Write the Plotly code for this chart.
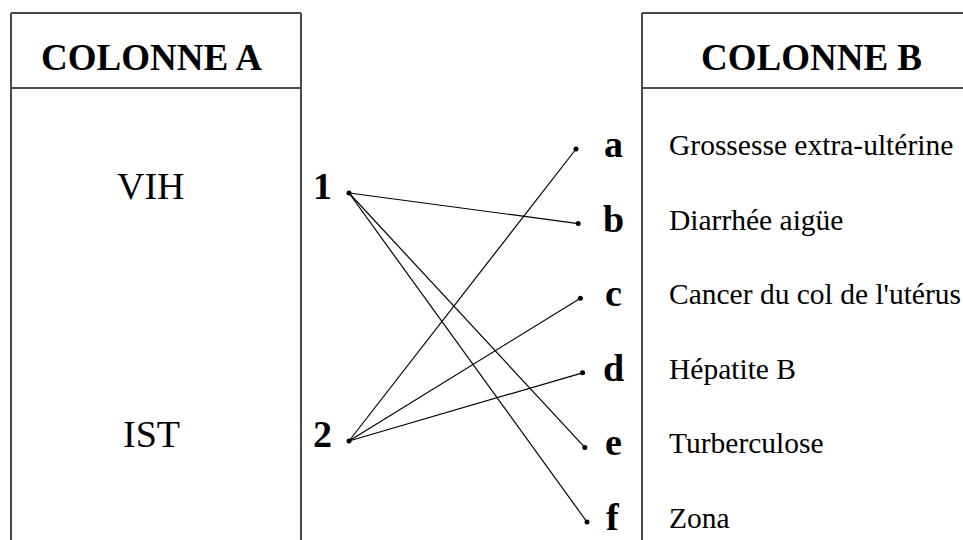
import plotly.graph_objects as go

# ---- data ----
col_a_title = "COLONNE A"
col_b_title = "COLONNE B"
col_a_items = ["VIH", "IST"]
left_labels = ["1", "2"]
right_labels = ["a", "b", "c", "d", "e", "f"]
col_b_items = ["Grossesse extra-ultérine", "Diarrhée aigüe", "Cancer du col de l'utérus",
               "Hépatite B", "Turberculose", "Zona"]
links_from = ["1", "1", "1", "2", "2", "2"]
links_to = ["b", "e", "f", "a", "c", "d"]

# ---- layout geometry (coordinates = window pixels) ----
W, H = 963, 540
SERIF = "Times New Roman, Liberation Serif, serif"
left_dot_x = 349
left_dot_y = {"1": 193, "2": 441}
right_dot_y0, right_step = 149, 74.6
right_dot_x0, right_dx = 576, 2.2
right_pos = {lab: (right_dot_x0 + i * right_dx, right_dot_y0 + i * right_step)
             for i, lab in enumerate(right_labels)}
left_pos = {lab: (left_dot_x, left_dot_y[lab]) for lab in left_labels}

fig = go.Figure()

# connecting lines
for a, b in zip(links_from, links_to):
    x0, y0 = left_pos[a]
    x1, y1 = right_pos[b]
    fig.add_trace(go.Scatter(x=[x0, x1], y=[y0, y1], mode="lines",
                             line=dict(color="black", width=1.2),
                             hoverinfo="skip", showlegend=False))

# dots
fig.add_trace(go.Scatter(
    x=[left_pos[l][0] for l in left_labels] + [right_pos[l][0] for l in right_labels],
    y=[left_pos[l][1] for l in left_labels] + [right_pos[l][1] for l in right_labels],
    mode="markers", marker=dict(color="black", size=5),
    hoverinfo="skip", showlegend=False))

# frames
frame = dict(color="#4a4a4a", width=2)
shapes = [
    dict(type="line", x0=11, x1=11, y0=13, y1=H + 5),
    dict(type="line", x0=301, x1=301, y0=13, y1=H + 5),
    dict(type="line", x0=11, x1=301, y0=13, y1=13),
    dict(type="line", x0=11, x1=301, y0=88, y1=88),
    dict(type="line", x0=642, x1=642, y0=13, y1=H + 5),
    dict(type="line", x0=642, x1=W + 5, y0=13, y1=13),
    dict(type="line", x0=642, x1=W + 5, y0=88, y1=88),
]
for s in shapes:
    s.update(xref="x", yref="y", line=frame, layer="below")

ann = []
ann.append(dict(x=151, y=57, text="<b>%s</b>" % col_a_title, font=dict(size=37)))
ann.append(dict(x=811, y=57, text="<b>%s</b>" % col_b_title, font=dict(size=37)))
for item, lab in zip(col_a_items, left_labels):
    ann.append(dict(x=151, y=left_dot_y[lab] - 7, text=item, font=dict(size=38)))
    ann.append(dict(x=322, y=left_dot_y[lab] - 7, text="<b>%s</b>" % lab, font=dict(size=38)))
for item, lab in zip(col_b_items, right_labels):
    x, y = right_pos[lab]
    ann.append(dict(x=613, y=y - 5, text="<b>%s</b>" % lab, font=dict(size=38)))
    ann.append(dict(x=667, y=y - 4, text=item, font=dict(size=29.5), xanchor="left"))
for a in ann:
    a.setdefault("xanchor", "center")
    a.update(xref="x", yref="y", yanchor="middle", showarrow=False)
    a["font"].update(family=SERIF, color="black")

fig.update_layout(
    width=W, height=H, margin=dict(l=0, r=0, t=0, b=0),
    paper_bgcolor="white", plot_bgcolor="white",
    xaxis=dict(range=[0, W], visible=False, fixedrange=True),
    yaxis=dict(range=[H, 0], visible=False, fixedrange=True),
    shapes=shapes, annotations=ann,
)
fig.write_html("out.html", config={"displayModeBar": False},
               post_script="document.body.style.margin='0';document.body.style.overflow='hidden';")
